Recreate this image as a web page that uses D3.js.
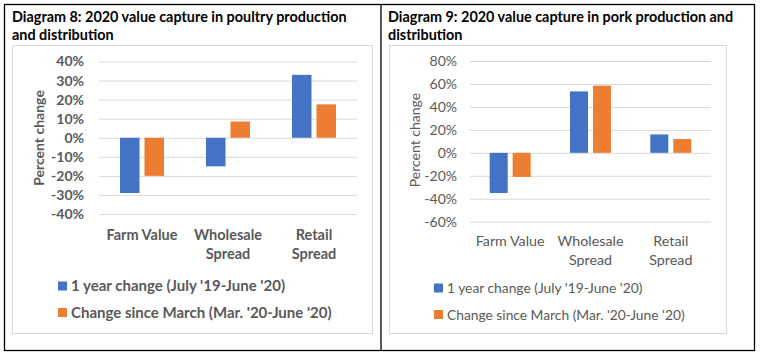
<!DOCTYPE html>
<html><head><meta charset="utf-8">
<script src="https://cdn.jsdelivr.net/npm/d3@7"></script>
<style>
body{margin:0;background:#fff;}
svg{display:block;}
text{font-family:Lato, "Open Sans", sans-serif;}
</style></head>
<body>
<svg id="c" width="761" height="359"></svg>
<script>
const categories = [["Farm Value"], ["Wholesale", "Spread"], ["Retail", "Spread"]];
const seriesNames = ["1 year change (July '19-June '20)", "Change since March (Mar. '20-June '20)"];
const poultryYear = [-29, -15, 33];
const poultryMarch = [-20, 8.5, 17.5];
const porkYear = [-35, 53.5, 16];
const porkMarch = [-21, 58.5, 12];
const poultryTicks = [40, 30, 20, 10, 0, -10, -20, -30, -40];
const porkTicks = [80, 60, 40, 20, 0, -20, -40, -60];
const titles8 = ["Diagram 8: 2020 value capture in poultry production", "and distribution"];
const titles9 = ["Diagram 9: 2020 value capture in pork production and", "distribution"];
const colors = ["#4472C4", "#ED7D31"];

const svg = d3.select("#c");
// outer frame
svg.append("rect").attr("x",4.5).attr("y",4.5).attr("width",750).attr("height",346)
  .attr("fill","none").attr("stroke","#000").attr("stroke-width",1.3);
svg.append("line").attr("x1",381).attr("x2",381).attr("y1",4.5).attr("y2",350.5)
  .attr("stroke","#000").attr("stroke-width",1.3);

function panel(o){
  const g = svg.append("g");
  g.selectAll("text.title").data(o.titles).join("text")
    .attr("x", o.titleX).attr("y",(d,i)=>22+i*17.5)
    .attr("font-size",14.4).attr("font-weight","bold").attr("fill","#000").text(d=>d);
  g.append("rect").attr("x",o.box[0]+0.5).attr("y",45.5).attr("width",o.box[1]-o.box[0]).attr("height",288)
    .attr("fill","none").attr("stroke","#D9D9D9");
  const y = d3.scaleLinear().domain(d3.extent(o.ticks)).range([o.y1, o.y0]);
  const x = d3.scaleBand().domain(d3.range(categories.length)).range([o.x0,o.x1]);
  const fw = o.bold ? "bold" : "normal";
  const yAxis = d3.axisLeft(y).tickValues(o.ticks).tickFormat(d=>d+"%").tickSize(-(o.x1-o.x0)).tickPadding(o.x0-o.labelX);
  const ga = g.append("g").attr("transform",`translate(${o.x0},0)`).call(yAxis);
  ga.select(".domain").remove();
  ga.selectAll("line").attr("stroke","#D9D9D9");
  ga.selectAll("text").attr("font-size",o.tickFs).attr("font-weight",fw).attr("fill","#595959")
    .attr("font-family","Lato, 'Open Sans', sans-serif");
  // bars
  const series=[o.a,o.b];
  const bw = o.bw, gap = o.gap;
  series.forEach((s,si)=>{
    g.selectAll(null).data(s).join("rect")
      .attr("x",(d,i)=>x(i)+x.bandwidth()/2 + (si===0? -gap/2-bw : gap/2))
      .attr("width",bw)
      .attr("y",d=>y(Math.max(0,d)))
      .attr("height",d=>Math.abs(y(d)-y(0)))
      .attr("fill",colors[si]);
  });
  // category labels
  categories.forEach((c,i)=>{
    const t = g.append("text").attr("text-anchor","middle").attr("font-size",o.catFs).attr("font-weight",fw).attr("fill","#595959");
    c.forEach((line,li)=>{
      t.append("tspan").attr("x",x(i)+x.bandwidth()/2).attr("y",o.catY+li*18.5).text(line);
    });
  });
  // y title
  g.append("text").attr("transform",`translate(${o.ytX},${o.ytY}) rotate(-90)`)
    .attr("text-anchor","middle").attr("font-size",o.ytFs).attr("font-weight",fw).attr("fill","#595959").text("Percent change");
  // legend
  seriesNames.forEach((n,i)=>{
    g.append("rect").attr("x",o.legX).attr("y",o.legY+i*26.5-4.5).attr("width",9).attr("height",9).attr("fill",colors[i]);
    g.append("text").attr("x",o.legX+13).attr("y",o.legY+i*26.5+5).attr("font-size",o.legFs).attr("font-weight",fw).attr("fill","#595959").text(n);
  });
}

panel({titles:titles8, titleX:12, box:[12,372], ticks:poultryTicks, y0:61.5, y1:214, x0:99, x1:357, labelX:84,
  bold:true, tickFs:14, catFs:14.5, ytFs:14, legFs:15, a:poultryYear, b:poultryMarch, bw:19.5, gap:5, catY:240, ytX:44, ytY:138, legX:58, legY:286});
panel({titles:titles9, titleX:388, box:[389,726], ticks:porkTicks, y0:61, y1:221.7, x0:470, x1:711, labelX:457,
  bold:false, tickFs:14, catFs:14.3, ytFs:14, legFs:13.8, a:porkYear, b:porkMarch, bw:18, gap:5, catY:246, ytX:420, ytY:140, legX:434, legY:288});
</script>
</body></html>
